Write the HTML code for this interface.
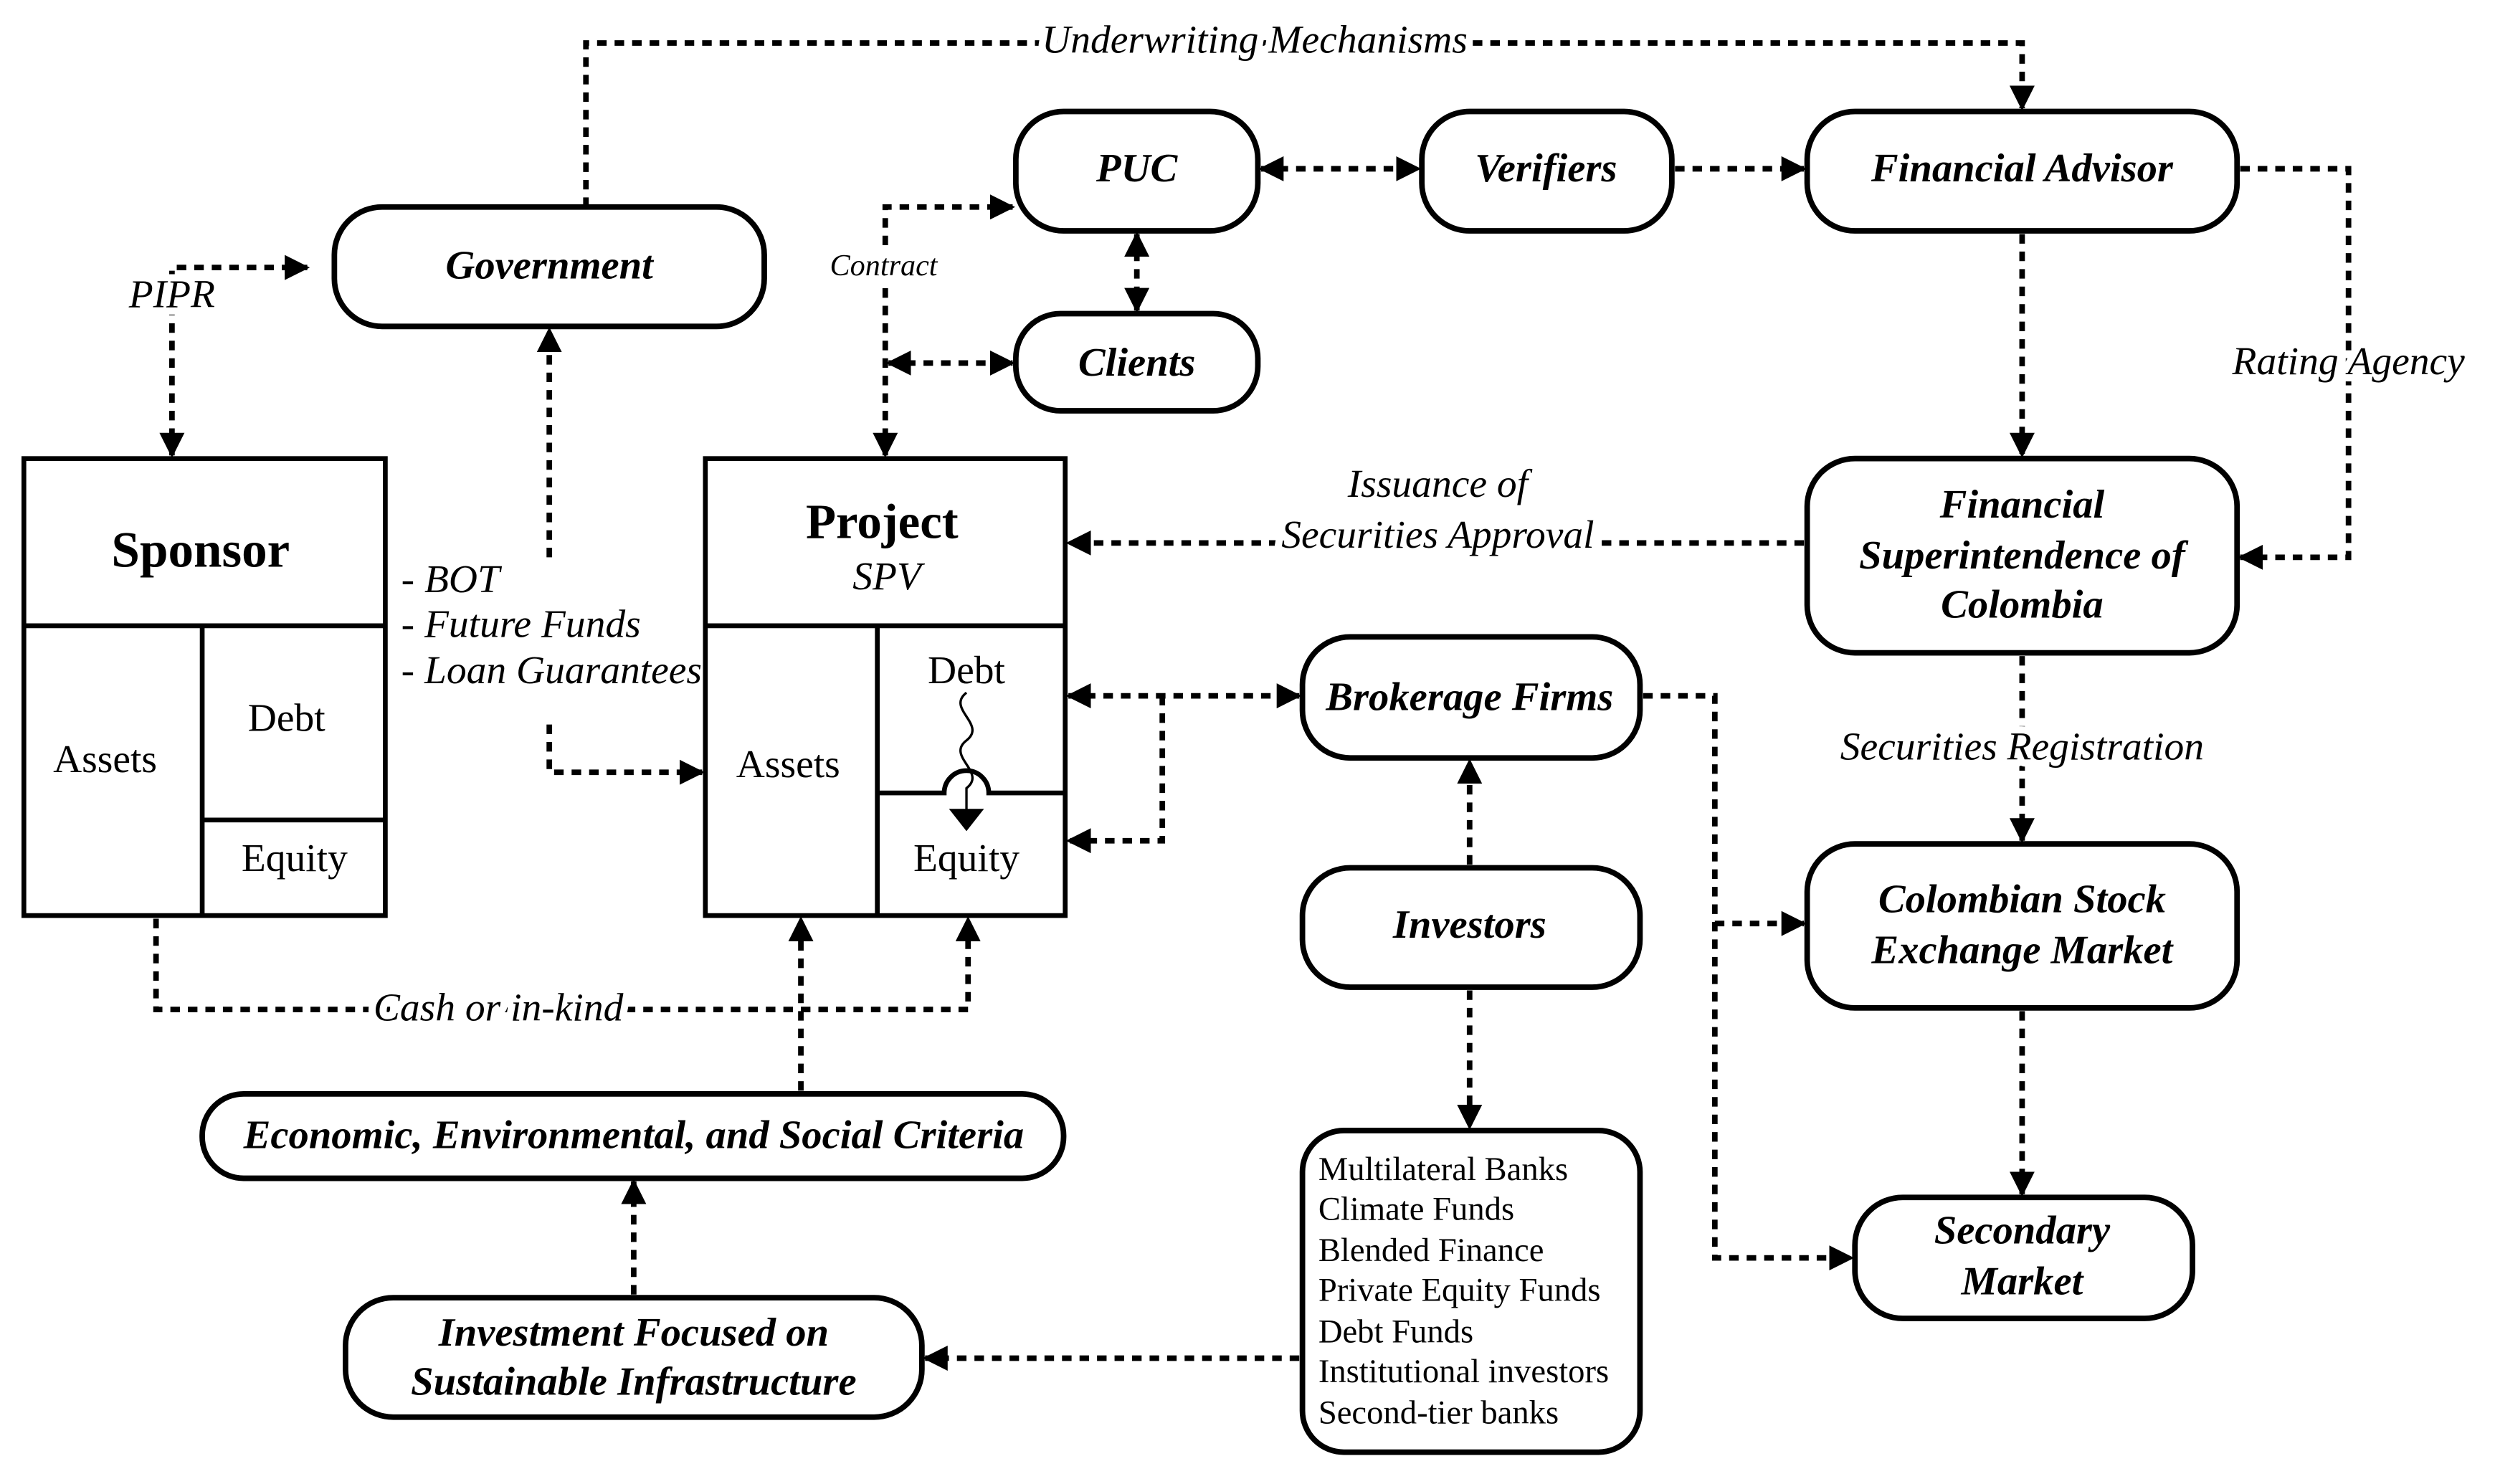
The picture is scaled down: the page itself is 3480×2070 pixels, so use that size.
<!DOCTYPE html>
<html><head><meta charset="utf-8"><style>
html,body{margin:0;padding:0;background:#fff;}
svg{display:block;}
text{font-family:"Liberation Serif",serif;fill:#000;}
.n{font-weight:bold;font-style:italic;font-size:25.5px;}
.i{font-style:italic;font-size:25px;}
.h{stroke:#fff;stroke-width:9;paint-order:stroke;stroke-linejoin:round;}
.r{font-size:25px;}
.l{font-size:21px;}
.box{fill:#fff;stroke:#000;stroke-width:3.5;}
.d{fill:none;stroke:#000;stroke-width:3.5;stroke-dasharray:6,5;}
.s{fill:none;stroke:#000;stroke-width:3;}
</style></head><body>
<svg width="3480" height="2070" viewBox="0 0 1567 932" preserveAspectRatio="none" xmlns="http://www.w3.org/2000/svg">
<defs>
<marker id="a" viewBox="0 0 10 10" refX="9" refY="5" markerWidth="4.5" markerHeight="4.5" orient="auto-start-reverse" markerUnits="strokeWidth">
<path d="M0,0 L10,5 L0,10 z" fill="#000"/></marker>
</defs>
<rect width="1567" height="932" fill="#fff"/>

<!-- connectors -->
<path class="d" d="M368,130 V27 H1270 V68" marker-end="url(#a)"/>
<path class="d" d="M108,286 V168 H193" marker-start="url(#a)" marker-end="url(#a)"/>
<path class="d" d="M345,350 V207" marker-end="url(#a)"/>
<path class="d" d="M345,455 V485 H441" marker-end="url(#a)"/>
<path class="d" d="M556,286 V130 H636" marker-start="url(#a)" marker-end="url(#a)"/>
<path class="d" d="M558,228 H636" marker-start="url(#a)" marker-end="url(#a)"/>
<path class="d" d="M714,147 V195" marker-start="url(#a)" marker-end="url(#a)"/>
<path class="d" d="M792,106 H891" marker-start="url(#a)" marker-end="url(#a)"/>
<path class="d" d="M1052,106 H1133" marker-end="url(#a)"/>
<path class="d" d="M1407,106 H1475 V350 H1407" marker-end="url(#a)"/>
<path class="d" d="M1270,147 V286" marker-end="url(#a)"/>
<path class="d" d="M1133,341 H671" marker-end="url(#a)"/>
<path class="d" d="M1270,412 V528" marker-end="url(#a)"/>
<path class="d" d="M1270,635 V750" marker-end="url(#a)"/>
<path class="d" d="M671,437 H816" marker-start="url(#a)" marker-end="url(#a)"/>
<path class="d" d="M730,437 V528 H671" marker-end="url(#a)"/>
<path class="d" d="M1032,437 H1077 V790 H1163" marker-end="url(#a)"/>
<path class="d" d="M1077,580 H1133" marker-end="url(#a)"/>
<path class="d" d="M923,543 V478" marker-end="url(#a)"/>
<path class="d" d="M923,622 V708" marker-end="url(#a)"/>
<path class="d" d="M816,853 H581" marker-end="url(#a)"/>
<path class="d" d="M398,813 V742" marker-end="url(#a)"/>
<path class="d" d="M503,685 V577" marker-end="url(#a)"/>
<path class="d" d="M98,577 V634 H608 V577" marker-end="url(#a)"/>

<!-- rounded nodes -->
<rect class="box" x="210" y="130" width="270" height="75" rx="30"/>
<rect class="box" x="638" y="70" width="152" height="75" rx="30"/>
<rect class="box" x="893" y="70" width="157" height="75" rx="30"/>
<rect class="box" x="1135" y="70" width="270" height="75" rx="30"/>
<rect class="box" x="638" y="197" width="152" height="61" rx="28"/>
<rect class="box" x="1135" y="288" width="270" height="122" rx="30"/>
<rect class="box" x="818" y="400" width="212" height="76" rx="30"/>
<rect class="box" x="818" y="545" width="212" height="75" rx="30"/>
<rect class="box" x="1135" y="530" width="270" height="103" rx="30"/>
<rect class="box" x="1165" y="752" width="212" height="76" rx="30"/>
<rect class="box" x="127" y="687" width="541" height="53" rx="26"/>
<rect class="box" x="217" y="815" width="362" height="75" rx="30"/>
<rect class="box" x="818" y="710" width="212" height="202" rx="26"/>

<!-- Sponsor -->
<rect class="s" x="15" y="288" width="227" height="287" fill="#fff"/>
<path class="s" d="M15,393 H242 M127,393 V575 M127,515 H242"/>
<!-- Project -->
<rect class="s" x="443" y="288" width="226" height="287" fill="#fff"/>
<path class="s" d="M443,393 H669 M551,393 V575 M551,498 H593 A14,14 0 0 1 621,498 H669"/>
<path d="M607,435 C594,445 620,455 607,465 C594,475 620,485 607,495 L607,510" fill="none" stroke="#000" stroke-width="1.5"/>
<path d="M596,508 L618,508 L607,522 z" fill="#000"/>

<!-- texts -->
<text class="i h" x="788" y="33" text-anchor="middle">Underwriting Mechanisms</text>
<text class="i h" x="108" y="193" text-anchor="middle">PIPR</text>
<text class="n" x="345" y="175" text-anchor="middle">Government</text>
<text class="n" x="714" y="114" text-anchor="middle">PUC</text>
<text class="n" x="971" y="114" text-anchor="middle">Verifiers</text>
<text class="n" x="1270" y="114" text-anchor="middle">Financial Advisor</text>
<text class="n" x="714" y="236" text-anchor="middle">Clients</text>
<text class="h" style="font-style:italic;font-size:19px" x="555" y="173" text-anchor="middle">Contract</text>
<text class="i h" x="1475" y="235" text-anchor="middle">Rating Agency</text>
<text class="n" x="1270" y="325" text-anchor="middle">Financial</text>
<text class="n" x="1270" y="357" text-anchor="middle">Superintendence of</text>
<text class="n" x="1270" y="388" text-anchor="middle">Colombia</text>
<text class="i h" x="903" y="312" text-anchor="middle">Issuance of</text>
<text class="i h" x="903" y="344" text-anchor="middle">Securities Approval</text>
<text class="i h" x="1270" y="477" text-anchor="middle">Securities Registration</text>
<text class="n" x="923" y="446" text-anchor="middle">Brokerage Firms</text>
<text class="n" x="923" y="589" text-anchor="middle">Investors</text>
<text class="n" x="1270" y="573" text-anchor="middle">Colombian Stock</text>
<text class="n" x="1270" y="605" text-anchor="middle">Exchange Market</text>
<text class="n" x="1270" y="781" text-anchor="middle">Secondary</text>
<text class="n" x="1270" y="813" text-anchor="middle">Market</text>
<text class="n" x="398" y="721" text-anchor="middle">Economic, Environmental, and Social Criteria</text>
<text class="n" x="398" y="845" text-anchor="middle">Investment Focused on</text>
<text class="n" x="398" y="876" text-anchor="middle">Sustainable Infrastructure</text>
<text class="l" x="828" y="741">Multilateral Banks</text>
<text class="l" x="828" y="766">Climate Funds</text>
<text class="l" x="828" y="792">Blended Finance</text>
<text class="l" x="828" y="817">Private Equity Funds</text>
<text class="l" x="828" y="843">Debt Funds</text>
<text class="l" x="828" y="868">Institutional investors</text>
<text class="l" x="828" y="894">Second-tier banks</text>
<text class="i" x="252" y="372">- BOT</text>
<text class="i" x="252" y="400">- Future Funds</text>
<text class="i" x="252" y="429">- Loan Guarantees</text>
<text class="i h" x="313" y="641" text-anchor="middle">Cash or in-kind</text>
<text style="font-weight:bold;font-size:32px" x="126" y="356" text-anchor="middle">Sponsor</text>
<text class="r" x="66" y="485" text-anchor="middle">Assets</text>
<text class="r" x="180" y="459" text-anchor="middle">Debt</text>
<text class="r" x="185" y="547" text-anchor="middle">Equity</text>
<text style="font-weight:bold;font-size:31px" x="554" y="338" text-anchor="middle">Project</text>
<text class="i" x="557" y="370" text-anchor="middle">SPV</text>
<text class="r" x="495" y="488" text-anchor="middle">Assets</text>
<text class="r" x="607" y="429" text-anchor="middle">Debt</text>
<text class="r" x="607" y="547" text-anchor="middle">Equity</text>
</svg>
</body></html>
